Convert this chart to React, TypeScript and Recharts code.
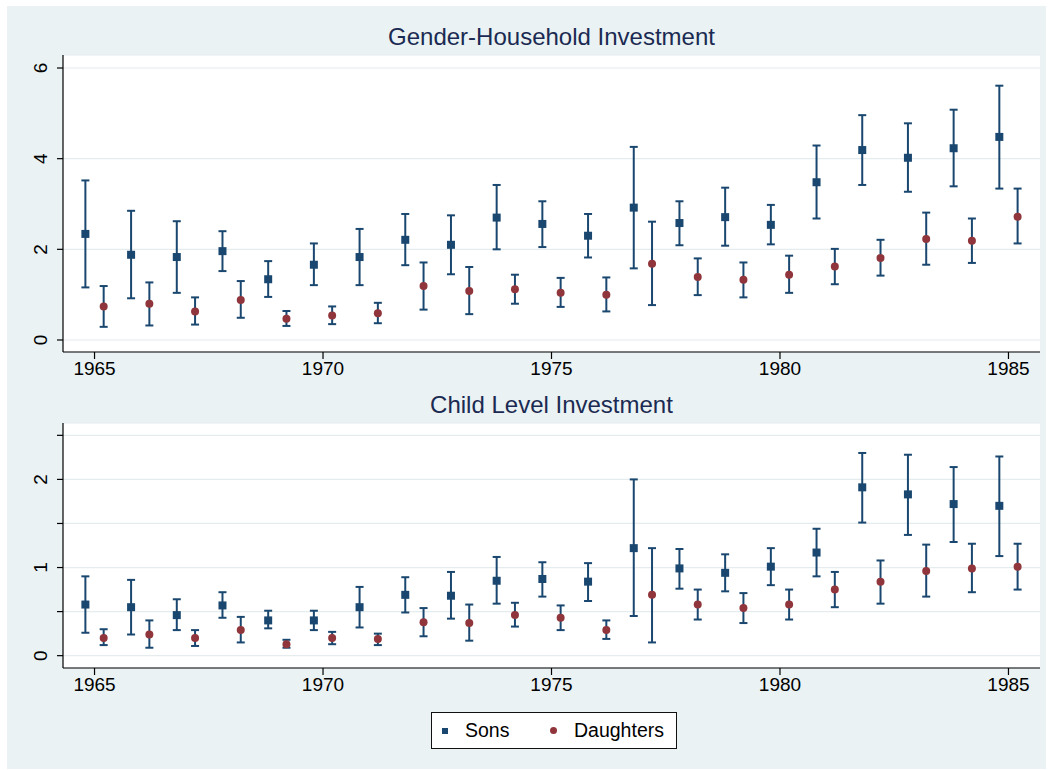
import { ScatterChart, Scatter, ErrorBar, XAxis, YAxis, CartesianGrid } from "recharts";

// survey years, sons plotted a bit left of the year, daughters a bit right
const years = [1965, 1966, 1967, 1968, 1969, 1970, 1971, 1972, 1973, 1974, 1975, 1976, 1977, 1978, 1979, 1980, 1981, 1982, 1983, 1984, 1985];
const xTicks = [1965, 1970, 1975, 1980, 1985];

// Gender-Household Investment
const hhSons = [2.34, 1.88, 1.83, 1.96, 1.34, 1.66, 1.83, 2.21, 2.1, 2.7, 2.56, 2.3, 2.92, 2.58, 2.71, 2.54, 3.48, 4.19, 4.02, 4.23, 4.48];
const hhSonsLo = [1.16, 0.92, 1.04, 1.52, 0.95, 1.21, 1.21, 1.65, 1.45, 2.0, 2.05, 1.82, 1.58, 2.09, 2.08, 2.11, 2.68, 3.42, 3.27, 3.39, 3.34];
const hhSonsHi = [3.52, 2.85, 2.62, 2.4, 1.74, 2.13, 2.45, 2.78, 2.75, 3.42, 3.06, 2.78, 4.26, 3.06, 3.36, 2.98, 4.29, 4.96, 4.78, 5.08, 5.61];
const hhDaughters = [0.74, 0.8, 0.63, 0.88, 0.47, 0.54, 0.59, 1.19, 1.08, 1.12, 1.04, 1.0, 1.68, 1.39, 1.33, 1.44, 1.62, 1.81, 2.23, 2.19, 2.72];
const hhDaughtersLo = [0.29, 0.32, 0.34, 0.49, 0.31, 0.35, 0.37, 0.67, 0.57, 0.8, 0.73, 0.63, 0.77, 0.99, 0.94, 1.04, 1.23, 1.42, 1.66, 1.7, 2.13];
const hhDaughtersHi = [1.19, 1.27, 0.94, 1.3, 0.64, 0.74, 0.82, 1.71, 1.61, 1.44, 1.37, 1.38, 2.61, 1.8, 1.71, 1.86, 2.01, 2.21, 2.81, 2.68, 3.34];
const hhTicks = [0, 2, 4, 6];

// Child Level Investment
const chSons = [0.58, 0.55, 0.46, 0.57, 0.4, 0.4, 0.55, 0.69, 0.68, 0.85, 0.87, 0.84, 1.22, 0.99, 0.94, 1.01, 1.17, 1.91, 1.83, 1.72, 1.7];
const chSonsLo = [0.26, 0.24, 0.29, 0.43, 0.31, 0.29, 0.32, 0.49, 0.42, 0.59, 0.67, 0.62, 0.45, 0.76, 0.73, 0.8, 0.9, 1.51, 1.37, 1.29, 1.13];
const chSonsHi = [0.9, 0.86, 0.64, 0.72, 0.51, 0.51, 0.78, 0.89, 0.95, 1.12, 1.06, 1.05, 2.0, 1.21, 1.15, 1.22, 1.44, 2.3, 2.28, 2.14, 2.26];
const chDaughters = [0.2, 0.24, 0.2, 0.29, 0.13, 0.2, 0.19, 0.38, 0.37, 0.46, 0.43, 0.29, 0.69, 0.58, 0.54, 0.58, 0.75, 0.84, 0.96, 0.99, 1.01];
const chDaughtersLo = [0.12, 0.09, 0.11, 0.15, 0.09, 0.13, 0.12, 0.22, 0.17, 0.33, 0.29, 0.19, 0.15, 0.41, 0.37, 0.41, 0.55, 0.59, 0.67, 0.72, 0.75];
const chDaughtersHi = [0.3, 0.4, 0.29, 0.44, 0.18, 0.27, 0.25, 0.54, 0.58, 0.6, 0.57, 0.4, 1.22, 0.75, 0.71, 0.75, 0.95, 1.08, 1.26, 1.27, 1.27];
const chTicks = [0, 0.5, 1, 1.5, 2, 2.5];

const NAVY = "#1a476f";
const MAROON = "#90353b";
const BG = "#eaf2f3";
const TITLE = "#1b2a52";
const FONT = '"Liberation Sans", Arial, sans-serif';

const buildPoints = (mean: number[], lo: number[], hi: number[], shift: number) =>
  years.map((yr, i) => ({ x: yr + shift, y: mean[i], err: [mean[i] - lo[i], hi[i] - mean[i]] }));

const SquareDot = (props: any) => <rect x={props.cx - 4} y={props.cy - 4} width={8} height={8} fill={NAVY} />;
const RoundDot = (props: any) => <circle cx={props.cx} cy={props.cy} r={4} fill={MAROON} />;

// rotated y labels, only whole numbers get a label
const YTick = (props: any) => {
  const { x, y, payload } = props;
  if (!Number.isInteger(payload.value)) return <g />;
  const tx = x - 8;
  return (
    <text x={tx} y={y} transform={`rotate(-90, ${tx}, ${y})`} textAnchor="middle" fill="#000" fontSize={19} fontFamily={FONT}>
      {payload.value}
    </text>
  );
};

type PanelProps = {
  title: string;
  top: number;
  height: number;
  marginTop: number;
  yDomain: number[];
  yTicks: number[];
  sons: ReturnType<typeof buildPoints>;
  daughters: ReturnType<typeof buildPoints>;
};

const Panel = ({ title, top, height, marginTop, yDomain, yTicks, sons, daughters }: PanelProps) => (
  <>
    <div
      style={{
        position: "absolute",
        left: 63,
        width: 977,
        top: top + marginTop - 30,
        textAlign: "center",
        fontSize: 24,
        lineHeight: "24px",
        color: TITLE,
        fontFamily: FONT,
      }}
    >
      {title}
    </div>
    <div style={{ position: "absolute", left: 7, top }}>
      <ScatterChart width={1039} height={height} margin={{ top: marginTop, right: 6, left: 0, bottom: 0 }}>
        <CartesianGrid vertical={false} stroke="#e4ecee" strokeWidth={1.2} fill="#fff" />
        <XAxis
          type="number"
          dataKey="x"
          domain={[1964.31, 1985.69]}
          ticks={xTicks}
          allowDataOverflow
          height={44}
          tickSize={7}
          tickMargin={3}
          axisLine={{ stroke: "#000", strokeWidth: 1.2 }}
          tickLine={{ stroke: "#000", strokeWidth: 1.2 }}
          tick={{ fill: "#000", fontSize: 19, fontFamily: FONT }}
        />
        <YAxis
          type="number"
          dataKey="y"
          domain={yDomain}
          ticks={yTicks}
          allowDataOverflow
          width={56}
          tickSize={6}
          axisLine={{ stroke: "#000", strokeWidth: 1.2 }}
          tickLine={{ stroke: "#000", strokeWidth: 1.2 }}
          tick={<YTick />}
        />
        <Scatter data={sons} dataKey="y" shape={<SquareDot />} isAnimationActive={false}>
          <ErrorBar dataKey="err" direction="y" width={4} stroke={NAVY} strokeWidth={2} isAnimationActive={false} />
        </Scatter>
        <Scatter data={daughters} dataKey="y" shape={<RoundDot />} isAnimationActive={false}>
          <ErrorBar dataKey="err" direction="y" width={4} stroke={NAVY} strokeWidth={2} isAnimationActive={false} />
        </Scatter>
      </ScatterChart>
    </div>
  </>
);

export default function App() {
  const legendText = { position: "absolute" as const, top: 8, fontSize: 19.5, lineHeight: "19.5px", color: "#000" };
  return (
    <div style={{ position: "absolute", left: 0, top: 0, width: 1049, height: 770, background: "#fff", fontFamily: FONT }}>
      <div style={{ position: "absolute", left: 7, top: 6, width: 1039, height: 763, background: BG }} />
      <Panel
        title="Gender-Household Investment"
        top={6}
        height={390}
        marginTop={49}
        yDomain={[-0.265, 6.287]}
        yTicks={hhTicks}
        sons={buildPoints(hhSons, hhSonsLo, hhSonsHi, -0.2)}
        daughters={buildPoints(hhDaughters, hhDaughtersLo, hhDaughtersHi, 0.2)}
      />
      <Panel
        title="Child Level Investment"
        top={380}
        height={332}
        marginTop={43}
        yDomain={[-0.14, 2.64]}
        yTicks={chTicks}
        sons={buildPoints(chSons, chSonsLo, chSonsHi, -0.2)}
        daughters={buildPoints(chDaughters, chDaughtersLo, chDaughtersHi, 0.2)}
      />
      <div
        style={{
          position: "absolute",
          left: 431,
          top: 712,
          width: 246,
          height: 37,
          boxSizing: "border-box",
          border: "1px solid #111",
          background: "#fff",
        }}
      >
        <div style={{ position: "absolute", left: 10, top: 15, width: 6, height: 6, background: NAVY }} />
        <span style={{ ...legendText, left: 33 }}>Sons</span>
        <div style={{ position: "absolute", left: 118, top: 14, width: 7, height: 7, borderRadius: "50%", background: MAROON }} />
        <span style={{ ...legendText, left: 142 }}>Daughters</span>
      </div>
    </div>
  );
}
